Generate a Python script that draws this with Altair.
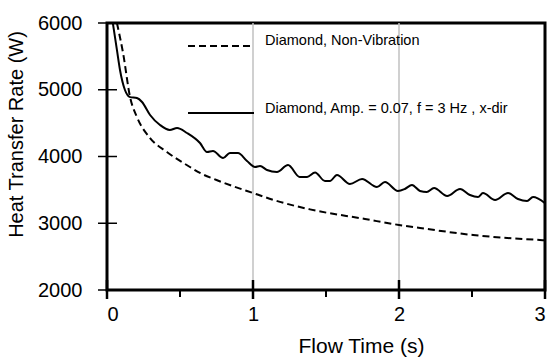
import altair as alt
import pandas as pd

# Non-vibration (dashed)
t_dash = [0.068, 0.11, 0.158, 0.205, 0.295, 0.41, 0.568, 0.637, 0.75, 1.0, 1.158,
          1.39, 1.767, 2.0, 2.144, 2.507, 3.0]
v_dash = [6000, 5550, 4890, 4592, 4277, 4068, 3843, 3753, 3648, 3453, 3338,
          3208, 3064, 2974, 2929, 2824, 2745]

# Vibration (solid)
t_solid = [0.04, 0.068, 0.089, 0.123, 0.158, 0.205, 0.24, 0.295, 0.363, 0.43, 0.48,
           0.548, 0.637, 0.685, 0.726, 0.795, 0.842, 0.897, 0.959, 1.014, 1.048,
           1.096, 1.164, 1.24, 1.32, 1.37, 1.425, 1.493, 1.527, 1.575, 1.664,
           1.747, 1.849, 1.904, 1.993, 2.04, 2.089, 2.144, 2.19, 2.24, 2.33,
           2.418, 2.486, 2.541, 2.575, 2.658, 2.747, 2.815, 2.877, 2.918, 3.0]
v_solid = [6000, 5596, 5296, 4996, 4890, 4876, 4817, 4622, 4472, 4397, 4427,
           4352, 4202, 4068, 4083, 3978, 4053, 4053, 3933, 3843, 3858,
           3798, 3768, 3873, 3693, 3693, 3760, 3633, 3633, 3723, 3588,
           3663, 3543, 3618, 3483, 3513, 3573, 3483, 3468, 3528, 3408,
           3513, 3423, 3393, 3453, 3348, 3453, 3363, 3333, 3393, 3300]

x_major = [0, 1, 2, 3]
x_minor = [0.5, 1.5, 2.5]
y_ticks = [2000, 3000, 4000, 5000, 6000]
grid_x = [1, 2]

legend_labels = ["Diamond, Non-Vibration", "Diamond, Amp. = 0.07, f = 3 Hz , x-dir"]

W, H = 438, 267
FONT = "Liberation Sans"

df_dash = pd.DataFrame({"t": t_dash, "v": v_dash})
df_solid = pd.DataFrame({"t": t_solid, "v": v_solid})

xscale = alt.Scale(domain=[0, 3], nice=False, zero=False)
yscale = alt.Scale(domain=[2000, 6000], nice=False, zero=False)

xaxis = alt.Axis(values=x_major, format="d", grid=False, ticks=False,
                 domain=False, labelFontSize=20, labelFont=FONT, labelColor="black",
                 labelPadding=14, title="Flow Time (s)", titleFont=FONT, titleFontSize=21,
                 titleFontWeight="normal", titleColor="black",
                 titleX=254, titleY=62, titleBaseline="alphabetic")
yaxis = alt.Axis(values=y_ticks, format="d", grid=False, ticks=False,
                 domain=False, labelFontSize=20, labelFont=FONT, labelColor="black",
                 labelPadding=25, title="Heat Transfer Rate (W)", titleFont=FONT,
                 titleFontSize=20, titleFontWeight="normal", titleColor="black",
                 titleX=-81, titleY=111, titleBaseline="bottom", titleAlign="center")

grid = alt.Chart(pd.DataFrame({"g": grid_x})).mark_rule(color="#c0c0c0", strokeWidth=1.5).encode(
    x=alt.X("g:Q", scale=xscale, axis=xaxis),
    y=alt.value(0), y2=alt.value(H)
)

tick_x = alt.Chart(pd.DataFrame({"g": x_major})).mark_rule(color="black", strokeWidth=2.5).encode(
    x=alt.X("g:Q", scale=xscale),
    y=alt.value(H - 10), y2=alt.value(H + 9)
)
tick_xm = alt.Chart(pd.DataFrame({"g": x_minor})).mark_rule(color="black", strokeWidth=2).encode(
    x=alt.X("g:Q", scale=xscale),
    y=alt.value(H), y2=alt.value(H + 7)
)
tick_y = alt.Chart(pd.DataFrame({"g": y_ticks})).mark_rule(color="black", strokeWidth=1.5).encode(
    y=alt.Y("g:Q", scale=yscale, axis=yaxis),
    x=alt.value(-9), x2=alt.value(10)
)

dash_line = alt.Chart(df_dash).mark_line(color="black", strokeWidth=2, strokeDash=[7, 4],
                                         clip=True, interpolate="monotone").encode(
    x=alt.X("t:Q", scale=xscale),
    y=alt.Y("v:Q", scale=yscale)
)
solid_line = alt.Chart(df_solid).mark_line(color="black", strokeWidth=2,
                                           clip=True, interpolate="monotone").encode(
    x=alt.X("t:Q", scale=xscale),
    y=alt.Y("v:Q", scale=yscale)
)

leg_dash = alt.Chart(pd.DataFrame({"a": [0]})).mark_rule(color="black", strokeWidth=2, strokeDash=[7, 4]).encode(
    x=alt.value(81), x2=alt.value(146), y=alt.value(23)
)
leg_solid = alt.Chart(pd.DataFrame({"a": [0]})).mark_rule(color="black", strokeWidth=2).encode(
    x=alt.value(81), x2=alt.value(147), y=alt.value(90)
)
leg_text1 = alt.Chart(pd.DataFrame({"lab": [legend_labels[0]]})).mark_text(
    align="left", baseline="alphabetic", font=FONT, fontSize=14.5, color="black").encode(
    x=alt.value(158), y=alt.value(22), text="lab:N")
leg_text2 = alt.Chart(pd.DataFrame({"lab": [legend_labels[1]]})).mark_text(
    align="left", baseline="alphabetic", font=FONT, fontSize=14.5, color="black").encode(
    x=alt.value(158), y=alt.value(90), text="lab:N")

chart = alt.layer(grid, tick_x, tick_xm, tick_y, dash_line, solid_line,
                  leg_dash, leg_solid, leg_text1, leg_text2).properties(
    width=W, height=H,
    autosize=alt.AutoSizeParams(type="none"),
    padding={"left": 107, "top": 23, "right": 7, "bottom": 68},
    background="white"
).configure_view(stroke="black", strokeWidth=3)

chart.save("out.html", embed_options={"renderer": "svg", "actions": False})
